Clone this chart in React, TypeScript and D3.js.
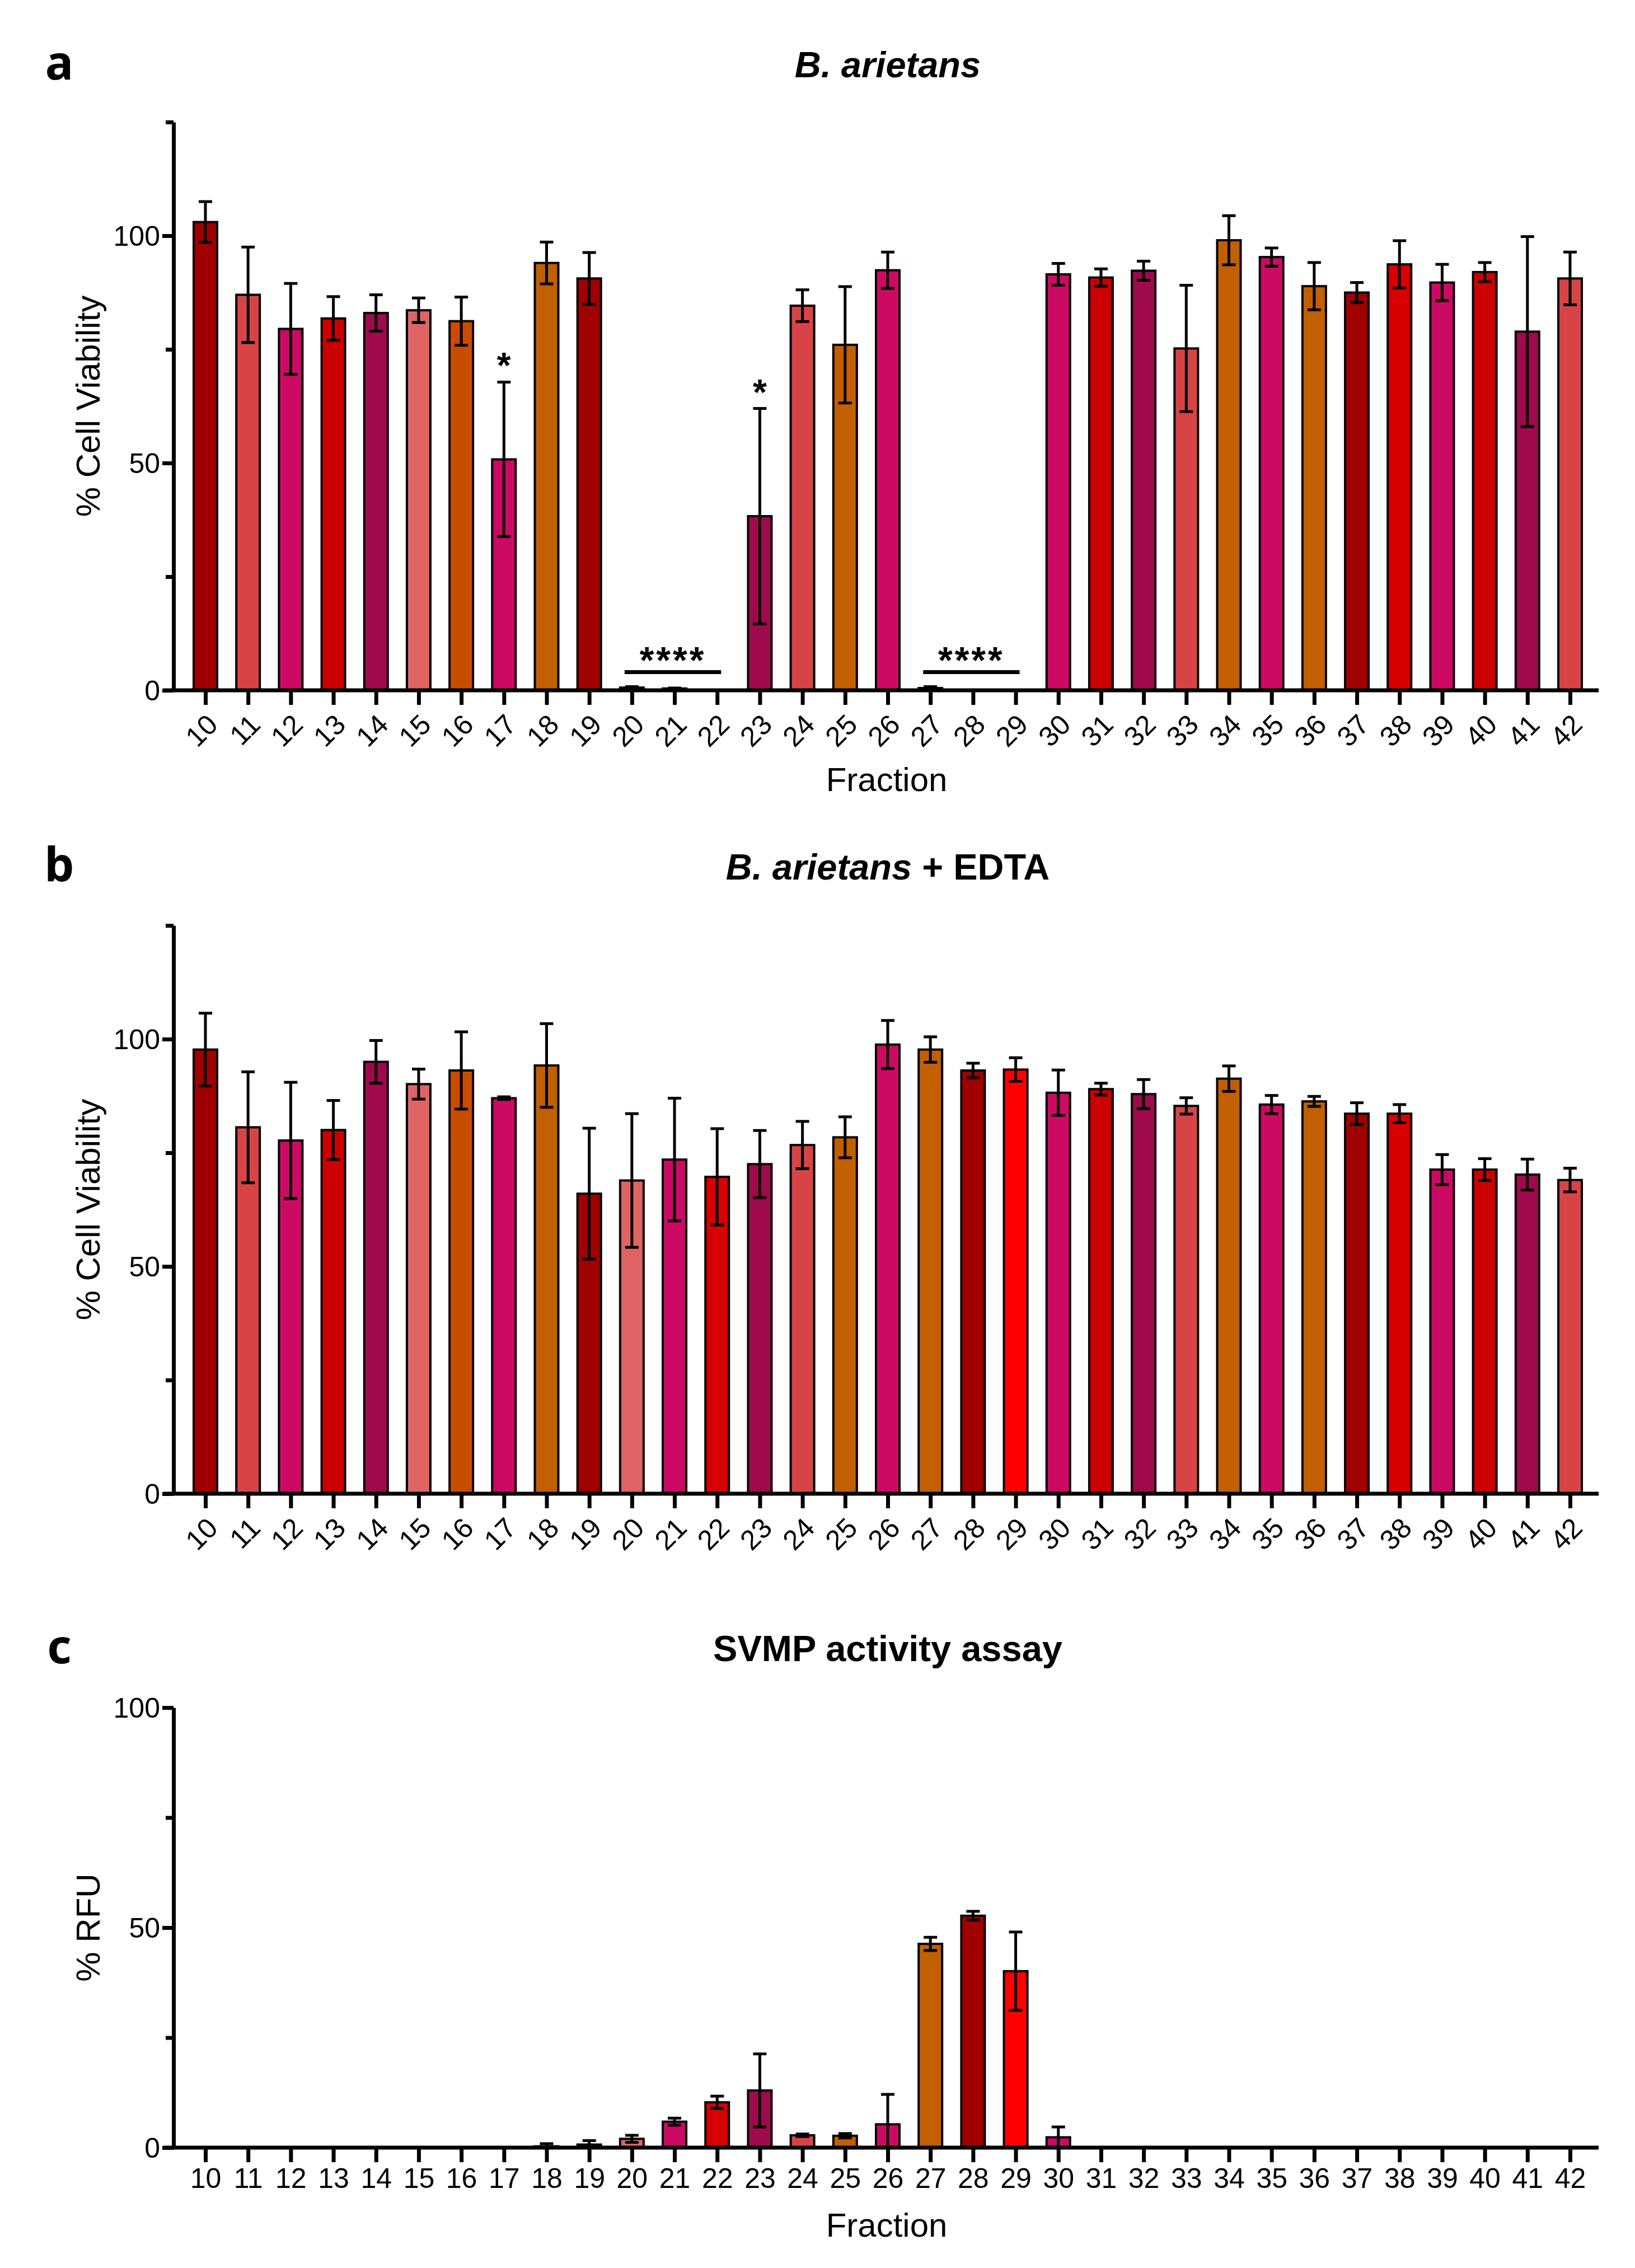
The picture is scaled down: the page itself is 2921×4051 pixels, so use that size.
import { useEffect, useRef } from "react";
import * as d3 from "d3";

// fraction numbers along every x axis
const fractions = [
  "10", "11", "12", "13", "14", "15", "16", "17", "18", "19", "20",
  "21", "22", "23", "24", "25", "26", "27", "28", "29", "30", "31",
  "32", "33", "34", "35", "36", "37", "38", "39", "40", "41", "42",
];

// a: B. arietans, % cell viability (mean, SEM)
const viabilityMean = [
  103, 87, 79.5, 81.8, 83, 83.6, 81.2, 50.8, 94, 90.6, 0.6,
  0.4, 0, 38.3, 84.6, 76, 92.4, 0.5, 0, 0, 91.5, 90.8,
  92.3, 75.2, 99, 95.3, 88.9, 87.5, 93.7, 89.7, 92, 78.9, 90.6,
];
const viabilitySem = [
  4.5, 10.5, 10, 4.8, 4, 2.7, 5.3, 17, 4.6, 5.7, 0.2,
  0.1, 0, 23.7, 3.5, 12.8, 4, 0.3, 0, 0, 2.4, 1.9,
  2.1, 13.9, 5.4, 2, 5.2, 2.2, 5.2, 4, 2.1, 20.9, 5.8,
];

// b: B. arietans + EDTA
const edtaMean = [
  97.7, 80.6, 77.7, 80, 95, 90.1, 93.1, 87, 94.2, 66, 68.9,
  73.5, 69.7, 72.5, 76.7, 78.4, 98.8, 97.7, 93.1, 93.3, 88.2, 89,
  87.9, 85.3, 91.3, 85.6, 86.3, 83.6, 83.6, 71.3, 71.3, 70.2, 69,
];
const edtaSem = [
  8, 12.2, 12.8, 6.5, 4.7, 3.3, 8.5, 0.3, 9.2, 14.4, 14.7,
  13.5, 10.6, 7.4, 5.2, 4.5, 5.3, 2.8, 1.6, 2.6, 5, 1.3,
  3.2, 1.8, 2.8, 2, 1.1, 2.4, 2, 3.3, 2.4, 3.4, 2.6,
];

// c: SVMP activity, % RFU
const rfuMean = [
  0, 0, 0, 0, 0, 0, 0, 0, 0.3, 0.7, 2,
  5.9, 10.3, 13, 2.8, 2.7, 5.3, 46.3, 52.7, 40.1, 2.35, 0,
  0, 0, 0, 0, 0, 0, 0, 0, 0, 0, 0,
];
const rfuSem = [
  0, 0, 0, 0, 0, 0, 0, 0, 0.6, 0.9, 0.8,
  0.8, 1.4, 8.3, 0.3, 0.5, 6.8, 1.5, 1, 8.9, 2.35, 0,
  0, 0, 0, 0, 0, 0, 0, 0, 0, 0, 0,
];

// significance marks on panel a
const singleStars = ["17", "23"];
const starBrackets = [
  ["20", "22"],
  ["27", "29"],
];

const majorTicks = [0, 50, 100];
const minorTicksViability = [25, 75, 125];
const minorTicksRfu = [25, 75];

// fill for each fraction (same in all panels)
const DR = "#a00000";
const SR = "#d84446";
const MG = "#cc0a64";
const RD = "#cc0000";
const PM = "#9e0a4c";
const LS = "#e06464";
const OB = "#c84c00";
const OR = "#c25f00";
const R2 = "#d90000";
const BR = "#ff0000";
const barColors = [
  DR, SR, MG, RD, PM, LS, OB, MG, OR, DR, LS,
  MG, R2, PM, SR, OR, MG, OR, DR, BR, MG, RD,
  PM, SR, OR, MG, OR, DR, R2, MG, RD, PM, SR,
];

const FONT = "'Liberation Sans', Arial, Helvetica, sans-serif";

type Panel = {
  mean: number[];
  sem: number[];
  yMax: number;
  y0: number;
  yTop: number;
  minor: number[];
  rotate: boolean;
  yLabel: string;
  xLabelY: number | null;
  letter: string;
  letterY: number;
  titleY: number;
  title: [string, string][];
};

function drawPanel(svg: d3.Selection<SVGSVGElement, unknown, null, undefined>, p: Panel) {
  const g = svg.append("g");
  const x = d3.scalePoint<string>().domain(fractions).range([367, 2805]);
  const y = d3.scaleLinear().domain([0, p.yMax]).range([p.y0, p.yTop]);

  // bars
  const rows = fractions.map((f, i) => ({ f, m: p.mean[i], s: p.sem[i], c: barColors[i] }));
  g.selectAll("rect.bar")
    .data(rows.filter(d => d.m > 0))
    .join("rect")
    .attr("x", d => (x(d.f) as number) - 21)
    .attr("width", 42)
    .attr("y", d => y(d.m))
    .attr("height", d => p.y0 - y(d.m))
    .attr("fill", d => d.c)
    .attr("stroke", "#000")
    .attr("stroke-width", 4);

  // error bars
  const eb = g.selectAll("g.err")
    .data(rows.filter(d => d.s > 0))
    .join("g")
    .attr("stroke", "#000")
    .attr("stroke-width", 5);
  eb.append("line")
    .attr("x1", d => x(d.f) as number)
    .attr("x2", d => x(d.f) as number)
    .attr("y1", d => y(d.m + d.s))
    .attr("y2", d => y(Math.max(0, d.m - d.s)));
  eb.append("line")
    .attr("x1", d => (x(d.f) as number) - 12)
    .attr("x2", d => (x(d.f) as number) + 12)
    .attr("y1", d => y(d.m + d.s))
    .attr("y2", d => y(d.m + d.s));
  eb.filter(d => d.m - d.s > 0.5).append("line")
    .attr("x1", d => (x(d.f) as number) - 12)
    .attr("x2", d => (x(d.f) as number) + 12)
    .attr("y1", d => y(d.m - d.s))
    .attr("y2", d => y(d.m - d.s));

  // y axis
  const ya = g.append("g").attr("transform", "translate(310,0)")
    .call(d3.axisLeft(y).tickValues(p.minor).tickSize(14).tickSizeOuter(0).tickFormat(() => ""));
  ya.select(".domain").remove();
  ya.selectAll("line").attr("stroke-width", 7);
  const yb = g.append("g").attr("transform", "translate(310,0)")
    .call(d3.axisLeft(y).tickValues(majorTicks).tickSize(20).tickSizeOuter(0).tickFormat(d3.format("d")));
  yb.select(".domain").attr("stroke-width", 7);
  yb.selectAll("line").attr("stroke-width", 7);
  yb.selectAll("text")
    .attr("x", -24)
    .attr("dy", "0.35em")
    .attr("font-size", 50)
    .attr("font-family", FONT)
    .attr("fill", "#000");

  // x axis
  const xa = g.append("g").attr("transform", `translate(0,${p.y0})`)
    .call(d3.axisBottom(x).tickSize(26).tickSizeOuter(0));
  xa.select(".domain").remove();
  xa.selectAll("line").attr("stroke-width", 7);
  const tx = xa.selectAll("text")
    .attr("font-size", 50)
    .attr("font-family", FONT)
    .attr("fill", "#000");
  if (p.rotate) {
    tx.attr("x", 0).attr("y", 0).attr("dy", "0.35em")
      .attr("text-anchor", "end")
      .attr("transform", "translate(12,52) rotate(-45)");
  } else {
    tx.attr("y", 72).attr("dy", 0);
  }
  g.append("line")
    .attr("x1", 292).attr("x2", 2856)
    .attr("y1", p.y0).attr("y2", p.y0)
    .attr("stroke", "#000").attr("stroke-width", 7);

  // labels
  g.append("text")
    .attr("transform", `translate(157,${(p.y0 + p.yTop) / 2}) rotate(-90)`)
    .attr("text-anchor", "middle")
    .attr("dominant-baseline", "central")
    .attr("font-size", 60)
    .attr("font-family", FONT)
    .text(p.yLabel);
  if (p.xLabelY !== null) {
    g.append("text")
      .attr("x", 1584).attr("y", p.xLabelY)
      .attr("text-anchor", "middle")
      .attr("font-size", 60)
      .attr("font-family", FONT)
      .text("Fraction");
  }
  g.append("text")
    .attr("x", 106).attr("y", p.letterY)
    .attr("text-anchor", "middle")
    .attr("font-size", 84)
    .attr("font-weight", "bold")
    .attr("font-family", "'Noto Sans', 'Open Sans', sans-serif")
    .text(p.letter);
  const t = g.append("text")
    .attr("x", 1586).attr("y", p.titleY)
    .attr("text-anchor", "middle")
    .attr("font-size", 65)
    .attr("font-weight", "bold")
    .attr("font-family", FONT);
  p.title.forEach(([s, style]) => t.append("tspan").attr("font-style", style).text(s));

  return { g, x, y };
}

export default function App() {
  const ref = useRef<SVGSVGElement | null>(null);

  useEffect(() => {
    if (!ref.current) return;
    const svg = d3.select(ref.current);
    svg.selectAll("*").remove();

    const a = drawPanel(svg, {
      mean: viabilityMean, sem: viabilitySem, yMax: 125, y0: 1233, yTop: 218,
      minor: minorTicksViability, rotate: true, yLabel: "% Cell Viability",
      xLabelY: 1413, letter: "a", letterY: 142, titleY: 138,
      title: [["B. arietans", "italic"]],
    });
    drawPanel(svg, {
      mean: edtaMean, sem: edtaSem, yMax: 125, y0: 2668, yTop: 1653,
      minor: minorTicksViability, rotate: true, yLabel: "% Cell Viability",
      xLabelY: null, letter: "b", letterY: 1574, titleY: 1571,
      title: [["B. arietans", "italic"], [" + EDTA", "normal"]],
    });
    drawPanel(svg, {
      mean: rfuMean, sem: rfuSem, yMax: 100, y0: 3836, yTop: 3050,
      minor: minorTicksRfu, rotate: false, yLabel: "% RFU",
      xLabelY: 3995, letter: "c", letterY: 2971, titleY: 2967,
      title: [["SVMP activity assay", "normal"]],
    });

    // significance on panel a
    const idx = (f: string) => fractions.indexOf(f);
    singleStars.forEach(f => {
      const i = idx(f);
      a.g.append("text")
        .attr("x", a.x(f) as number)
        .attr("y", a.y(viabilityMean[i] + viabilitySem[i]) - 43 + 36)
        .attr("text-anchor", "middle")
        .attr("font-size", 64)
        .attr("font-weight", "bold")
        .attr("font-family", FONT)
        .text("*");
    });
    starBrackets.forEach(([s, e]) => {
      const x1 = (a.x(s) as number) - 13;
      const x2 = (a.x(e) as number) + 7;
      const ly = a.y(4);
      a.g.append("line")
        .attr("x1", x1).attr("x2", x2)
        .attr("y1", ly).attr("y2", ly)
        .attr("stroke", "#000").attr("stroke-width", 7);
      a.g.append("text")
        .attr("x", (x1 + x2) / 2)
        .attr("y", ly - 37 + 38)
        .attr("text-anchor", "middle")
        .attr("font-size", 66)
        .attr("font-weight", "bold")
        .attr("letter-spacing", 4)
        .attr("font-family", FONT)
        .text("****");
    });
  }, []);

  return (
    <svg
      ref={ref}
      width={2921}
      height={4051}
      style={{ position: "absolute", left: 0, top: 0, background: "#fff" }}
    />
  );
}
